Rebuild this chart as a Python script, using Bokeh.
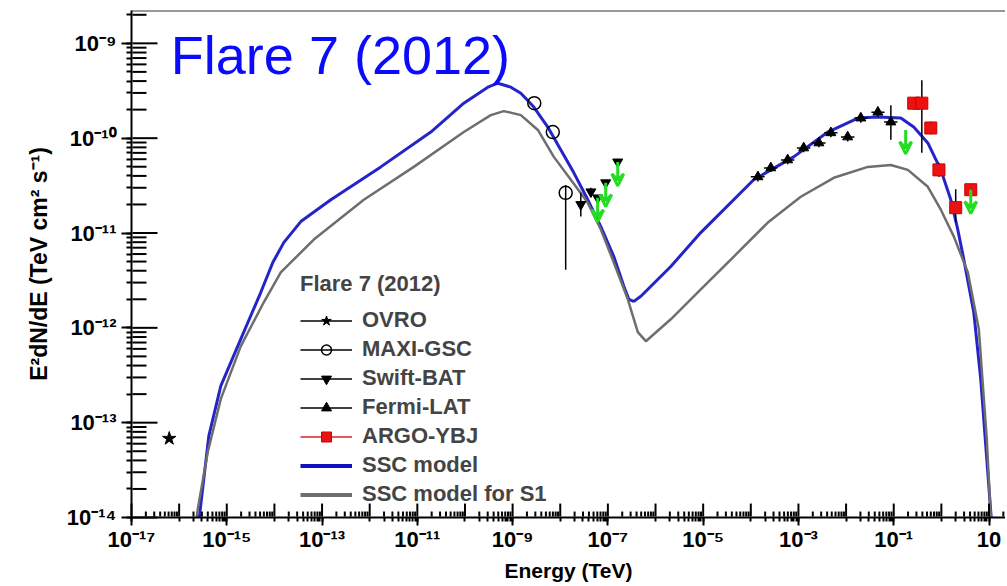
from bokeh.plotting import figure
from bokeh.models import (Legend, LegendItem, ColumnDataSource, Span, CustomJSTickFormatter,
                          LogTicker, Label, Arrow, VeeHead)
from bokeh.embed import file_html
from bokeh.resources import INLINE
import math

# ---------------- data ----------------
# SSC model (blue)
ssc_E = [2.35e-16, 3.30e-16, 4.20e-16, 7.50e-16, 1.70e-15, 5.18e-15, 9.25e-15, 1.57e-14, 3.58e-14,
         1.53e-13, 1.71e-12, 1.92e-11, 9.45e-11, 3.02e-10, 4.9e-10, 9.18e-10, 1.49e-9, 2.79e-9,
         5.48e-9, 1.03e-8, 1.93e-8, 3.79e-8, 7.11e-8, 1.33e-7, 2.16e-7, 2.75e-7, 3.51e-7, 4.92e-7,
         2.09e-6, 8.91e-6, 1.15e-4, 7.94e-4, 4.14e-3, 1.77e-2, 4.65e-2, 0.141, 0.263, 0.520, 0.975,
         1.58, 2.21, 2.96, 4.79, 6.71, 8.97, 12.0]
ssc_F = [6.0e-15, 2.57e-14, 7.26e-14, 2.44e-13, 6.41e-13, 2.37e-12, 4.89e-12, 7.92e-12, 1.32e-11,
         2.24e-11, 4.98e-11, 1.16e-10, 2.34e-10, 3.45e-10, 3.8e-10, 3.45e-10, 2.98e-10, 2.13e-10,
         1.31e-10, 7.52e-11, 4.31e-11, 2.24e-11, 1.17e-11, 5.65e-12, 2.74e-12, 2.0e-12, 1.9e-12, 2.15e-12,
         4.44e-12, 1.01e-11, 3.64e-11, 6.35e-11, 1.16e-10, 1.63e-10, 1.67e-10, 1.63e-10, 1.31e-10, 8.91e-11,
         4.63e-11, 2.24e-11, 1.09e-11, 5.26e-12, 1.46e-12, 2.88e-13, 4.17e-14, 6.0e-15]

# SSC model for S1 (grey)
s1_E = [2.05e-16, 2.47e-16, 4.0e-16, 7.5e-16, 1.97e-15, 5.98e-15, 1.36e-14, 6.71e-14, 7.52e-13,
        8.43e-12, 9.45e-11, 3.48e-10, 6.53e-10, 1.49e-9, 3.39e-9, 7.33e-9, 1.67e-8, 3.79e-8,
        7.11e-8, 1.33e-7, 2.62e-7, 4.25e-7, 6.27e-7, 2.09e-6, 8.91e-6, 4.40e-5, 2.28e-4, 1.12e-3,
        5.52e-3, 2.86e-2, 8.69e-2, 0.198, 0.520, 0.975, 1.83, 3.60, 6.12, 8.97, 11.5]
s1_F = [6.0e-15, 1.24e-14, 4.93e-14, 1.78e-13, 6.41e-13, 1.86e-12, 3.84e-12, 8.53e-12, 2.24e-11,
        4.98e-11, 1.16e-10, 1.75e-10, 1.93e-10, 1.75e-10, 1.22e-10, 6.35e-11, 3.64e-11, 2.08e-11,
        1.09e-11, 4.89e-12, 2.0e-12, 9.0e-13, 7.23e-13, 1.23e-12, 2.55e-12, 5.65e-12, 1.29e-11, 2.41e-11,
        3.82e-11, 4.98e-11, 5.22e-11, 4.63e-11, 3.07e-11, 1.76e-11, 9.16e-12, 3.84e-12, 9.66e-13,
        6.76e-14, 6.0e-15]

# OVRO
ovro_E = [6.2e-17]
ovro_F = [6.8e-14]

# MAXI-GSC
maxi_E = [2.85e-9, 6.98e-9, 1.3e-8]
maxi_F = [2.34e-10, 1.16e-10, 2.65e-11]
maxi_Flo = [2.34e-10, 1.16e-10, 4.1e-12]
maxi_Fhi = [2.34e-10, 1.16e-10, 3.2e-11]

# Swift-BAT (points and upper limits)
bat_E = [2.7e-8, 4.4e-8]
bat_F = [2.0e-11, 2.72e-11]
bat_Flo = [1.49e-11, 2.45e-11]
bat_Fhi = [2.65e-11, 3.0e-11]
bat_ul_E = [6.1e-8, 9.0e-8, 1.61e-7]
bat_ul_F = [2.35e-11, 3.39e-11, 5.62e-11]

# Fermi-LAT
lat_E = [1.41e-4, 2.63e-4, 5.94e-4, 1.29e-3, 2.69e-3, 4.79e-3, 1.08e-2, 2.04e-2, 4.65e-2, 8.71e-2]
lat_F = [3.91e-11, 4.86e-11, 5.90e-11, 7.89e-11, 8.91e-11, 1.14e-10, 1.03e-10, 1.63e-10, 1.88e-10, 1.48e-10]
lat_Elo = [1.0e-4, 1.9e-4, 4.3e-4, 9.3e-4, 1.95e-3, 3.5e-3, 7.8e-3, 1.5e-2, 3.4e-2, 6.3e-2]
lat_Ehi = [1.95e-4, 3.6e-4, 8.2e-4, 1.78e-3, 3.7e-3, 6.6e-3, 1.5e-2, 2.8e-2, 6.4e-2, 1.2e-1]
lat_Flo = [3.5e-11, 4.4e-11, 5.3e-11, 7.1e-11, 8.0e-11, 1.02e-10, 9.2e-11, 1.45e-10, 1.68e-10, 9.6e-11]
lat_Fhi = [4.4e-11, 5.4e-11, 6.6e-11, 8.8e-11, 1.0e-10, 1.27e-10, 1.15e-10, 1.83e-10, 2.1e-10, 2.23e-10]
lat_ul_E = [0.178]
lat_ul_F = [1.22e-10]

# ARGO-YBJ
argo_E = [0.263, 0.389, 0.60, 0.89, 2.0]
argo_F = [2.34e-10, 2.34e-10, 1.28e-10, 4.63e-11, 1.85e-11]
argo_Flo = [2.0e-10, 7.0e-11, 1.1e-10, 3.9e-11, 1.3e-11]
argo_Fhi = [2.7e-10, 4.08e-10, 1.5e-10, 5.5e-11, 2.9e-11]
argo_ul_E = [4.14]
argo_ul_F = [2.86e-11]

# axis decades
x_decades = [-17, -16, -15, -14, -13, -12, -11, -10, -9, -8, -7, -6, -5, -4, -3, -2, -1, 0, 1]
y_decades = [-14, -13, -12, -11, -10, -9]

# ---------------- figure ----------------
FONT = "Liberation Sans"
W, H = 1005, 584
BL, BT, BB = 131, 10, 65
X0, X1 = 1e-17, 22.2
Y0, Y1 = 1e-14, 2.22e-9
p = figure(width=W, height=H, x_axis_type="log", y_axis_type="log",
           x_range=(X0, X1), y_range=(Y0, Y1),
           output_backend="svg", toolbar_location=None,
           min_border_left=BL, min_border_right=0, min_border_top=BT, min_border_bottom=BB)
p.outline_line_color = None
p.grid.visible = False

sup_code = """
const sup = {"-":"\u207b","0":"\u2070","1":"\u00b9","2":"\u00b2","3":"\u00b3","4":"\u2074",
             "5":"\u2075","6":"\u2076","7":"\u2077","8":"\u2078","9":"\u2079"};
const e = Math.round(Math.log10(tick));
if (skip && Math.abs(e % 2) != 1) return "";
if (e == 1) return "10";
if (e == 0) return "1";
return "10" + String(e).split("").map(c => sup[c]).join("");
"""

p.xaxis.ticker = LogTicker(desired_num_ticks=19, num_minor_ticks=10)
p.yaxis.ticker = LogTicker(desired_num_ticks=6, num_minor_ticks=10)
p.xaxis.formatter = CustomJSTickFormatter(args=dict(skip=True), code=sup_code)
p.yaxis.formatter = CustomJSTickFormatter(args=dict(skip=False), code=sup_code)

for ax in (p.xaxis[0], p.yaxis[0]):
    ax.axis_line_width = 2
    ax.axis_line_color = "black"
    ax.major_tick_in = 0
    ax.minor_tick_in = 0
    ax.major_tick_line_width = 2
    ax.minor_tick_line_width = 2
    ax.major_tick_line_color = "black"
    ax.minor_tick_line_color = "black"
    ax.major_label_text_font = FONT
    ax.major_label_text_font_style = "bold"
    ax.major_label_text_font_size = "22px"
    ax.major_label_text_color = "black"
    ax.axis_label_text_font = FONT
    ax.axis_label_text_font_style = "bold"
    ax.axis_label_text_color = "black"

# short outward ticks on the axes; label standoffs reduced so label positions stay the same
p.xaxis.major_tick_out = 8
p.xaxis.minor_tick_out = 4
p.yaxis.major_tick_out = 10
p.yaxis.minor_tick_out = 5
p.xaxis.axis_label_text_font_size = "21px"
p.yaxis.axis_label_text_font_size = "23px"
p.xaxis.major_label_standoff = 1
p.yaxis.major_label_standoff = 5
p.xaxis.axis_label = "Energy (TeV)"
p.yaxis.axis_label = "E\u00b2dN/dE (TeV cm\u00b2 s\u207b\u00b9)"
p.xaxis.axis_label_standoff = 4
p.yaxis.axis_label_standoff = 12

p.add_layout(Span(location=Y1, dimension="width", line_color="#333333", line_width=2))

px_per_dec_x = (W - BL) / math.log10(X1 / X0)
px_per_dec_y = (H - BT - BB) / math.log10(Y1 / Y0)
fx = lambda px: 10 ** (px / px_per_dec_x)
fy = lambda px: 10 ** (px / px_per_dec_y)

# models
r_ssc = p.line(ssc_E, ssc_F, line_color="#2424c8", line_width=3)
r_s1 = p.line(s1_E, s1_F, line_color="#6e6e6e", line_width=2.5)

# OVRO
r_ovro_l = p.segment(x0=ovro_E, y0=ovro_F, x1=ovro_E, y1=ovro_F, line_color="black", line_width=1.5,
                     line_cap="butt")
r_ovro = p.scatter(ovro_E, ovro_F, marker="star", size=14, fill_color="black", line_color="black")

# MAXI
r_maxi_l = p.segment(x0=maxi_E, y0=maxi_Flo, x1=maxi_E, y1=maxi_Fhi, line_color="black", line_width=1.5)
r_maxi = p.scatter(maxi_E, maxi_F, marker="circle", size=13, fill_color="white", fill_alpha=0,
                   line_color="black", line_width=1.5)

# Swift-BAT
r_bat_l = p.segment(x0=bat_E, y0=bat_Flo, x1=bat_E, y1=bat_Fhi, line_color="black", line_width=1.5)
r_bat = p.scatter(bat_E, bat_F, marker="inverted_triangle", size=10, fill_color="black", line_color="black")
p.scatter(bat_ul_E, bat_ul_F, marker="inverted_triangle", size=10, fill_color="black", line_color="black")

# Fermi-LAT
r_lat_l = p.segment(x0=lat_E, y0=lat_Flo, x1=lat_E, y1=lat_Fhi, line_color="black", line_width=1.5)
p.segment(x0=lat_Elo, y0=lat_F, x1=lat_Ehi, y1=lat_F, line_color="black", line_width=1.5)
r_lat = p.scatter(lat_E, lat_F, marker="triangle", size=10, fill_color="black", line_color="black")

# ARGO-YBJ
p.segment(x0=argo_E, y0=argo_Flo, x1=argo_E, y1=argo_Fhi, line_color="black", line_width=1.5)
r_argo_l = p.segment(x0=argo_E, y0=argo_F, x1=argo_E, y1=argo_F, line_color="#dd2222", line_width=1.5,
                     line_cap="butt")
r_argo = p.scatter(argo_E, argo_F, marker="square", size=12, fill_color="#ee1111", line_color="#cc0000")
p.scatter(argo_ul_E, argo_ul_F, marker="square", size=12, fill_color="#ee1111", line_color="#cc0000")

# upper-limit arrows (green)
ul_E = bat_ul_E + lat_ul_E + argo_ul_E
ul_F = bat_ul_F + lat_ul_F + argo_ul_F
ul_src = ColumnDataSource(dict(x=ul_E, y0=ul_F, y1=[f / fy(24) for f in ul_F]))
p.add_layout(Arrow(source=ul_src, x_start="x", y_start="y0", x_end="x", y_end="y1",
                   line_color="#22dd22", line_width=3,
                   end=VeeHead(size=12, line_color="#22dd22", line_width=3, fill_alpha=0)))

# title text
p.add_layout(Label(x=6.7e-17, y=7.6e-10, text="Flare 7 (2012)", text_font=FONT,
                   text_font_size="54px", text_color="#0a0aff", text_baseline="alphabetic"))

# legend (zero-length segments give the legend its model line samples)
r_ssc_leg = p.segment(x0=ssc_E[:1], y0=ssc_F[:1], x1=ssc_E[:1], y1=ssc_F[:1],
                      line_color="#1010c0", line_width=4, line_cap="butt")
r_s1_leg = p.segment(x0=s1_E[:1], y0=s1_F[:1], x1=s1_E[:1], y1=s1_F[:1],
                     line_color="#6e6e6e", line_width=4, line_cap="butt")
items = [
    LegendItem(label="OVRO", renderers=[r_ovro_l, r_ovro]),
    LegendItem(label="MAXI-GSC", renderers=[r_maxi_l, r_maxi]),
    LegendItem(label="Swift-BAT", renderers=[r_bat_l, r_bat]),
    LegendItem(label="Fermi-LAT", renderers=[r_lat_l, r_lat]),
    LegendItem(label="ARGO-YBJ", renderers=[r_argo_l, r_argo]),
    LegendItem(label="SSC model", renderers=[r_ssc_leg]),
    LegendItem(label="SSC model for S1", renderers=[r_s1_leg]),
]
legend = Legend(items=items, location=(169, 10), title="Flare 7 (2012)",
                border_line_color=None, background_fill_alpha=0,
                glyph_width=52, glyph_height=25, label_height=25, spacing=3,
                padding=0, margin=0, label_standoff=10,
                label_text_font=FONT, label_text_font_style="bold", label_text_font_size="22px",
                title_text_font=FONT, title_text_font_style="bold", title_text_font_size="22px",
                title_standoff=10)
p.add_layout(legend)

# inward tick marks as segments, drawn last on the overlay level; pixel lengths via the log scale
xmaj = [10.0 ** e for e in x_decades]
xmin = [m * 10.0 ** e for e in x_decades for m in range(2, 10) if m * 10.0 ** e < X1]
ymaj = [10.0 ** e for e in y_decades]
ymin = [m * 10.0 ** e for e in y_decades for m in range(2, 10) if m * 10.0 ** e < Y1]
yb = Y0 * fy(1)
xl = X0 * fx(1)
tick_style = dict(line_color="black", line_width=2, line_cap="butt", level="overlay")
p.segment(x0=xmaj, y0=[yb] * len(xmaj), x1=xmaj, y1=[Y0 * fy(14)] * len(xmaj), **tick_style)
p.segment(x0=xmin, y0=[yb] * len(xmin), x1=xmin, y1=[Y0 * fy(6)] * len(xmin), **tick_style)
p.segment(x0=[xl] * len(ymaj), y0=ymaj, x1=[X0 * fx(26)] * len(ymaj), y1=ymaj, **tick_style)
p.segment(x0=[xl] * len(ymin), y0=ymin, x1=[X0 * fx(15)] * len(ymin), y1=ymin, **tick_style)

open("out.html", "w").write(file_html(p, INLINE))
